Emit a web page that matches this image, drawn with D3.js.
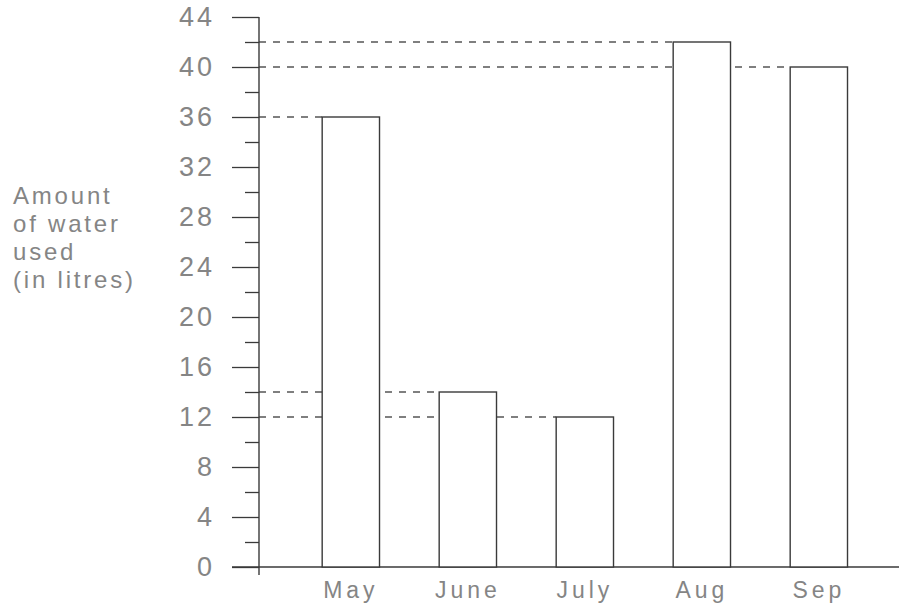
<!DOCTYPE html>
<html>
<head>
<meta charset="utf-8">
<script src="https://cdn.jsdelivr.net/npm/d3@7"></script>
<style>
    body { margin: 0; background: #fff; }
    text { font-family: "Liberation Sans", Arial, sans-serif; fill: #858585; }
</style>
</head>
<body>
<svg id="chart"></svg>
<script>
var months = ["May", "June", "July", "Aug", "Sep"];
var waterUsed = [36, 14, 12, 42, 40];
var majorTicks = [0, 4, 8, 12, 16, 20, 24, 28, 32, 36, 40, 44];
var minorTicks = [2, 6, 10, 14, 18, 22, 26, 30, 34, 38, 42];
var yLabelLines = ["Amount", "of water", "used", "(in litres)"];

let data = months.map((m, i) => { return {month: m, value: waterUsed[i]}; });

let width = 899, height = 612;
let axisX = 259, axisY = 567;

let svg = d3.select("#chart")
    .attr("width", width)
    .attr("height", height);

let x = d3.scaleBand()
    .domain(months)
    .range([axisX, axisX + 117 * (5 - 0.51 + 2 * 0.54)])
    .paddingInner(0.51)
    .paddingOuter(0.54);

let y = d3.scaleLinear()
    .domain([0, 44])
    .range([axisY, axisY - 550]);

const lineCol = "#3a3a3a";

// dashed guide lines from the axis to the left side of each bar
svg.selectAll(".guide")
    .data(data)
    .enter().append("line")
    .attr("class", "guide")
    .attr("x1", axisX)
    .attr("x2", d => x(d.month))
    .attr("y1", d => y(d.value))
    .attr("y2", d => y(d.value))
    .style("stroke", "#555")
    .style("stroke-width", 1.3)
    .style("stroke-dasharray", "7,7");

// minor ticks
let minorAxis = d3.axisLeft(y).tickValues(minorTicks).tickSize(14).tickFormat("");
let gMinor = svg.append("g")
    .attr("transform", "translate(" + axisX + ",0)")
    .call(minorAxis);

// major ticks + labels
let majorAxis = d3.axisLeft(y).tickValues(majorTicks).tickSize(27).tickPadding(17);
let gMajor = svg.append("g")
    .attr("transform", "translate(" + axisX + ",0)")
    .call(majorAxis);

[gMinor, gMajor].forEach(g => {
    g.select(".domain").remove();
    g.selectAll(".tick line").style("stroke", lineCol).style("stroke-width", 1.3);
});
gMajor.selectAll(".tick text")
    .style("font-size", "27px")
    .style("letter-spacing", "3px")
    .style("fill", "#858585")
    .style("font-family", "Liberation Sans, Arial, sans-serif");

// axis lines
svg.append("line")
    .attr("x1", axisX).attr("x2", axisX)
    .attr("y1", y(44)).attr("y2", axisY + 8)
    .style("stroke", lineCol).style("stroke-width", 1.4);

svg.append("line")
    .attr("x1", axisX - 27).attr("x2", width)
    .attr("y1", axisY).attr("y2", axisY)
    .style("stroke", lineCol).style("stroke-width", 1.4);

// bars
svg.selectAll(".bar")
    .data(data)
    .enter().append("rect")
    .attr("class", "bar")
    .attr("x", d => x(d.month))
    .attr("width", x.bandwidth())
    .attr("y", d => y(d.value))
    .attr("height", d => axisY - y(d.value))
    .style("fill", "#fff")
    .style("stroke", lineCol)
    .style("stroke-width", 1.4);

// month labels
let xAxis = d3.axisBottom(x).tickSize(0).tickPadding(15);
let gx = svg.append("g")
    .attr("transform", "translate(0," + axisY + ")")
    .call(xAxis);
gx.select(".domain").remove();
gx.selectAll(".tick text")
    .style("font-size", "23px")
    .style("letter-spacing", "4px")
    .style("fill", "#858585")
    .style("font-family", "Liberation Sans, Arial, sans-serif");

// y axis title
svg.append("text")
    .attr("x", 13)
    .attr("y", 204)
    .style("font-size", "24px")
    .style("letter-spacing", "2.8px")
    .selectAll("tspan")
    .data(yLabelLines)
    .enter().append("tspan")
    .attr("x", 13)
    .attr("dy", (d, i) => i == 0 ? 0 : 28)
    .text(d => d);
</script>
</body>
</html>
